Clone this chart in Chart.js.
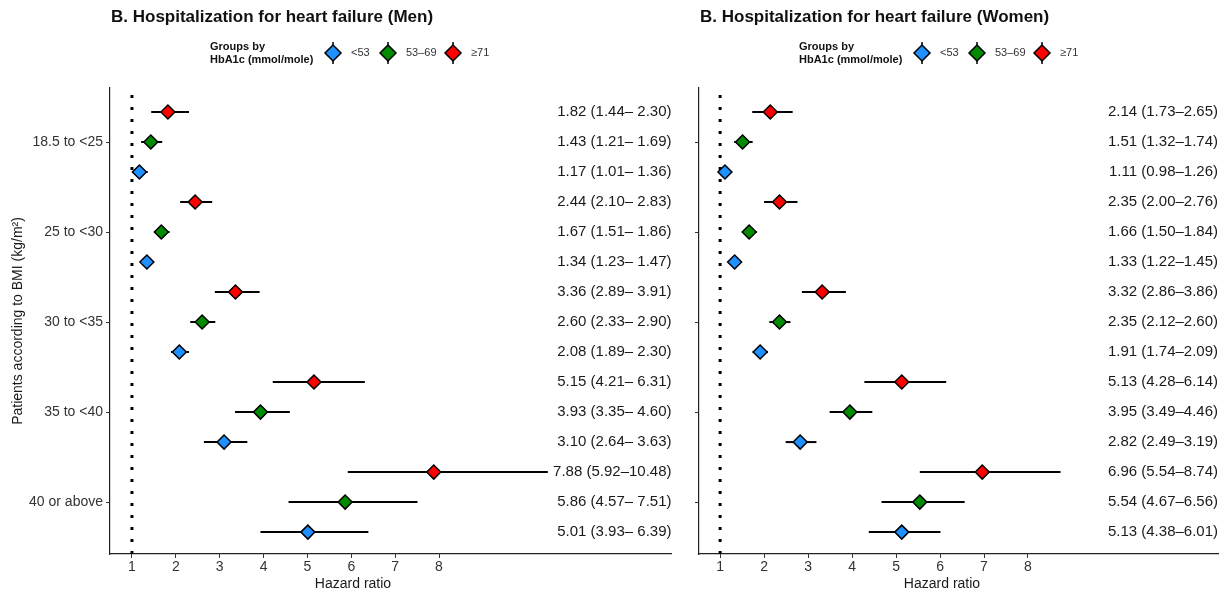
<!DOCTYPE html>
<html lang="en">
<head>
  <meta charset="UTF-8" />
  <title>Hospitalization for heart failure by BMI and HbA1c</title>
  <script src="https://cdn.jsdelivr.net/npm/chart.js"></script>
  <style>
    body { margin: 0; background: #fff; }
    #wrap { position: relative; width: 1228px; height: 596px; }
    #wrap canvas { position: absolute; top: 0; }
  </style>
</head>
<body>
  <div id="wrap">
    <canvas id="men" width="680" height="596" style="left:0"></canvas>
    <canvas id="women" width="548" height="596" style="left:680px"></canvas>
  </div>

  <script>
    const bmiLabels = ['18.5 to <25', '25 to <30', '30 to <35', '35 to <40', '40 or above'];
    const groupLabels = ['<53', '53–69', '≥71'];
    const groupColors = ['#1E90FF', '#008B00', '#FF0000'];
    const xTickValues = [1, 2, 3, 4, 5, 6, 7, 8];
    const refValue = 1;

    // [hazard ratio, lower 95% CI, upper 95% CI] per BMI class
    const menLt53 = [[1.17, 1.01, 1.36], [1.34, 1.23, 1.47], [2.08, 1.89, 2.30], [3.10, 2.64, 3.63], [5.01, 3.93, 6.39]];
    const men5369 = [[1.43, 1.21, 1.69], [1.67, 1.51, 1.86], [2.60, 2.33, 2.90], [3.93, 3.35, 4.60], [5.86, 4.57, 7.51]];
    const menGe71 = [[1.82, 1.44, 2.30], [2.44, 2.10, 2.83], [3.36, 2.89, 3.91], [5.15, 4.21, 6.31], [7.88, 5.92, 10.48]];

    const womenLt53 = [[1.11, 0.98, 1.26], [1.33, 1.22, 1.45], [1.91, 1.74, 2.09], [2.82, 2.49, 3.19], [5.13, 4.38, 6.01]];
    const women5369 = [[1.51, 1.32, 1.74], [1.66, 1.50, 1.84], [2.35, 2.12, 2.60], [3.95, 3.49, 4.46], [5.54, 4.67, 6.56]];
    const womenGe71 = [[2.14, 1.73, 2.65], [2.35, 2.00, 2.76], [3.32, 2.86, 3.86], [5.13, 4.28, 6.14], [6.96, 5.54, 8.74]];

    const FONT = '"Liberation Sans", Arial, Helvetica, sans-serif';
    const Y_MIN = 0.27, Y_MAX = 15.8;

    // row position: BMI class k from top, group g (0 = <53 at the bottom of the block)
    const rowPos = (k, g) => (bmiLabels.length - 1 - k) * 3 + g + 1;
    const bmiPos = k => (bmiLabels.length - 1 - k) * 3 + 2;

    function fmt(r, padUpper) {
      const hi = r[2].toFixed(2);
      return r[0].toFixed(2) + ' (' + r[1].toFixed(2) + '–' + (padUpper && r[2] < 10 ? ' ' : '') + hi + ')';
    }

    function makePanel(id, title, groups, opts) {
      const datasets = [];
      groups.forEach((rows, g) => {
        datasets.push({
          label: groupLabels[g],
          data: rows.map((r, k) => ({ x: r[0], y: rowPos(k, g) })),
          pointStyle: 'rectRot',
          pointRadius: 7,
          backgroundColor: groupColors[g],
          borderColor: '#000',
          borderWidth: 1.5,
          order: 0
        });
        rows.forEach((r, k) => {
          datasets.push({
            data: [{ x: r[1], y: rowPos(k, g) }, { x: r[2], y: rowPos(k, g) }],
            showLine: true,
            borderColor: '#000',
            borderWidth: 2,
            pointRadius: 0,
            order: 1
          });
        });
      });
      datasets.push({
        data: [{ x: refValue, y: Y_MIN }, { x: refValue, y: Y_MAX }],
        showLine: true,
        borderColor: '#000',
        borderWidth: 3,
        borderDash: [3, 9],
        borderCapStyle: 'butt',
        pointRadius: 0,
        order: 2
      });

      const decor = {
        id: 'decor',
        afterDraw(chart) {
          const { ctx, chartArea, scales } = chart;
          ctx.save();
          // title
          ctx.fillStyle = '#111';
          ctx.textAlign = 'left';
          ctx.textBaseline = 'alphabetic';
          ctx.font = 'bold 17px ' + FONT;
          ctx.fillText(title, chartArea.left + 1, 22);

          // legend
          const lx = chartArea.left + 100;
          ctx.font = 'bold 11px ' + FONT;
          ctx.textBaseline = 'middle';
          ctx.fillText('Groups by', lx, 47);
          ctx.fillText('HbA1c (mmol/mole)', lx, 60);
          const keyOff = [123, 178, 243], labOff = [141, 196, 261];
          groupLabels.forEach((lab, g) => {
            const kx = lx + keyOff[g], ky = 53;
            ctx.strokeStyle = '#000';
            ctx.lineWidth = 1.5;
            ctx.beginPath();
            ctx.moveTo(kx, ky - 11); ctx.lineTo(kx, ky + 11);
            ctx.stroke();
            ctx.beginPath();
            ctx.moveTo(kx, ky - 8); ctx.lineTo(kx + 8, ky);
            ctx.lineTo(kx, ky + 8); ctx.lineTo(kx - 8, ky);
            ctx.closePath();
            ctx.fillStyle = groupColors[g];
            ctx.fill();
            ctx.stroke();
            ctx.fillStyle = '#333';
            ctx.font = '11px ' + FONT;
            ctx.fillText(lab, lx + labOff[g], ky);
          });

          // value labels at the right edge
          ctx.fillStyle = '#1a1a1a';
          ctx.font = '15px ' + FONT;
          ctx.textAlign = 'right';
          groups.forEach((rows, g) => {
            rows.forEach((r, k) => {
              ctx.fillText(fmt(r, opts.padUpper), chartArea.right, scales.y.getPixelForValue(rowPos(k, g)));
            });
          });

          // x axis title
          ctx.textAlign = 'center';
          ctx.font = '14px ' + FONT;
          ctx.fillText('Hazard ratio', chartArea.left + 243, 584);

          // y axis title
          if (opts.yTitle) {
            ctx.translate(18, (chartArea.top + chartArea.bottom) / 2);
            ctx.rotate(-Math.PI / 2);
            ctx.fillText('Patients according to BMI (kg/m²)', 0, 0);
          }
          ctx.restore();
        }
      };

      return new Chart(document.getElementById(id), {
        type: 'scatter',
        data: { datasets },
        plugins: [decor],
        options: {
          responsive: false,
          animation: false,
          devicePixelRatio: 1,
          layout: { padding: { top: 88, right: opts.rightPad, bottom: 0, left: 0 } },
          plugins: { legend: { display: false }, tooltip: { enabled: false }, title: { display: false } },
          scales: {
            x: {
              type: 'linear',
              min: opts.xMin,
              max: opts.xMax,
              afterBuildTicks: s => { s.ticks = xTickValues.map(v => ({ value: v })); },
              afterFit: s => { s.height = 42; },
              ticks: { color: '#333', font: { family: FONT, size: 14 }, padding: 1, maxRotation: 0, autoSkip: false },
              grid: { drawOnChartArea: false, drawTicks: true, tickLength: 4, color: '#333' },
              border: { display: true, color: '#222', width: 1.2 }
            },
            y: {
              type: 'linear',
              min: Y_MIN,
              max: Y_MAX,
              afterBuildTicks: s => { s.ticks = bmiLabels.map((_, k) => ({ value: bmiPos(k) })); },
              afterFit: s => { s.width = opts.yWidth; },
              ticks: {
                display: opts.yLabels,
                color: '#333',
                font: { family: FONT, size: 14 },
                padding: 3,
                callback: v => bmiLabels[bmiLabels.length - 1 - (v - 2) / 3]
              },
              grid: { drawOnChartArea: false, drawTicks: true, tickLength: 4, color: '#333' },
              border: { display: true, color: '#222', width: 1.2 }
            }
          }
        }
      });
    }

    makePanel('men', 'B. Hospitalization for heart failure (Men)', [menLt53, men5369, menGe71],
      { padUpper: true, xMin: 0.5, xMax: 13.3, yWidth: 110, yLabels: true, yTitle: true, rightPad: 7 });
    makePanel('women', 'B. Hospitalization for heart failure (Women)', [womenLt53, women5369, womenGe71],
      { padUpper: false, xMin: 0.52, xMax: 12.32, yWidth: 19, yLabels: false, yTitle: false, rightPad: 10 });
  </script>
</body>
</html>
